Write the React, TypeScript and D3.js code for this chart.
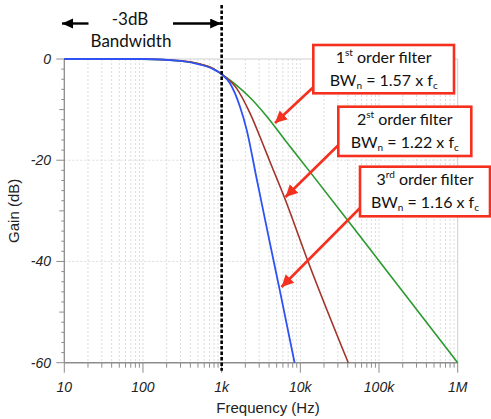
import React from 'react';
import * as d3 from 'd3';

// ---- data ----
const xTickValues = [10, 100, 1000, 10000, 100000, 1000000];
const xTickLabels = ['10', '100', '1k', '10k', '100k', '1M'];
const yTickValues = [0, -20, -40, -60];
const yTickLabels = ['0', '-20', '-40', '-60'];

const firstOrderFreq = [10, 100, 300, 530, 780, 1000, 1550, 2290, 3730, 6370, 13250, 40600, 102600, 1000000];
const firstOrderGain = [0, -0.05, -0.4, -1.0, -1.9, -3.0, -5.2, -7.6, -11.3, -16.0, -22.3, -32.0, -40.1, -60];

const secondOrderFreq = [10, 100, 300, 530, 780, 1000, 1550, 2290, 3380, 4110, 6370, 12600, 40600];
const secondOrderGain = [0, 0, -0.35, -1.0, -1.9, -3.0, -5.8, -10.7, -17.0, -20.3, -27.6, -40.1, -60];

const thirdOrderFreq = [10, 100, 300, 530, 780, 1000, 1275, 1706, 2080, 2790, 3910, 5500, 8450];
const thirdOrderGain = [0, 0, -0.35, -1.1, -2.0, -3.0, -4.8, -9.4, -14.0, -23.7, -34.8, -45.8, -60];

const cutoffFreq = 1000;

const W = 491;
const H = 419;
const left = 64.3;
const right = 457.7;
const top = 59;
const bottom = 362.7;

const RED = '#f5301f';

export default function App() {
  const x = d3.scaleLog().domain([10, 1000000]).range([left, right]);
  const y = d3.scaleLinear().domain([-60, 0]).range([bottom, top]);

  const line = d3
    .line<[number, number]>()
    .x((d) => x(d[0]))
    .y((d) => y(d[1]))
    .curve(d3.curveMonotoneX);

  const zip = (f: number[], g: number[]) => f.map((v, i) => [v, g[i]] as [number, number]);

  // minor log ticks
  const minorTicks: number[] = [];
  for (let e = 1; e < 6; e++) {
    for (let m = 2; m <= 9; m++) minorTicks.push(m * Math.pow(10, e));
  }
  const yMinor: number[] = [];
  for (let v = 0; v >= -60; v -= 2) yMinor.push(v);

  const sans = "'Liberation Sans', Arial, sans-serif";
  const cal = "Lato, 'Open Sans', sans-serif";

  const box = (
    bx: number,
    by: number,
    bw: number,
    bh: number,
    n: string,
    sup: string,
    bwv: string,
    key: string
  ) => {
    const cx = bx + bw / 2;
    return (
      <g key={key}>
        <rect x={bx} y={by} width={bw} height={bh} fill="#fff" stroke={RED} strokeWidth={2.6} />
        <text x={cx} y={by + 18} textAnchor="middle" fontFamily={cal} fontSize={16} fill="#111">
          <tspan>{n}</tspan>
          <tspan fontSize={10} dy={-7}>{sup}</tspan>
          <tspan dy={7}> order filter</tspan>
        </text>
        <text x={cx} y={by + 41} textAnchor="middle" fontFamily={cal} fontSize={16} fill="#111">
          <tspan>BW</tspan>
          <tspan fontSize={10} dy={3}>n</tspan>
          <tspan dy={-3}>{` = ${bwv} x f`}</tspan>
          <tspan fontSize={10} dy={3}>c</tspan>
        </text>
      </g>
    );
  };

  return (
    <svg width={W} height={H} style={{ position: 'absolute', left: 0, top: 0, background: '#fff' }}>
      <defs>
        <marker id="redHead" markerUnits="userSpaceOnUse" markerWidth={14} markerHeight={14} refX={12} refY={6} orient="auto">
          <path d="M0,0 L12,6 L0,12 Z" fill={RED} />
        </marker>
        <marker id="blackHead" markerUnits="userSpaceOnUse" markerWidth={14} markerHeight={14} refX={11} refY={5} orient="auto">
          <path d="M0,0 L11,5 L0,10 Z" fill="#000" />
        </marker>
      </defs>
      <rect x={0} y={0} width={W} height={H} fill="#fff" />

      {/* grid */}
      {minorTicks.concat(xTickValues.slice(1, -1)).map((f, i) => (
        <line key={'vg' + i} x1={x(f)} x2={x(f)} y1={top} y2={bottom} stroke="#dcdcdc" strokeWidth={1} strokeDasharray="2,2" />
      ))}
      {[-20, -40].map((v) => (
        <line key={'hg' + v} x1={left} x2={right} y1={y(v)} y2={y(v)} stroke="#dcdcdc" strokeWidth={1} strokeDasharray="2,2" />
      ))}
      {/* frame */}
      <line x1={left} x2={right} y1={top} y2={top} stroke="#cfcfcf" strokeWidth={1} />
      <line x1={right} x2={right} y1={top} y2={bottom} stroke="#cfcfcf" strokeWidth={1} />

      {/* y axis */}
      <line x1={left} x2={left} y1={top} y2={bottom} stroke="#8c8c8c" strokeWidth={1.3} />
      {yMinor.map((v) => {
        const len = v % 20 === 0 ? 8 : v % 10 === 0 ? 5 : 3;
        return <line key={'yt' + v} x1={left - len} x2={left} y1={y(v)} y2={y(v)} stroke="#8c8c8c" strokeWidth={1} />;
      })}
      {yTickValues.map((v, i) => (
        <text key={'yl' + v} x={51} y={y(v) + 5} textAnchor="end" fontFamily={sans} fontStyle="italic" fontSize={14} fill="#222">
          {yTickLabels[i]}
        </text>
      ))}
      <text transform={`translate(19,${(top + bottom) / 2}) rotate(-90)`} textAnchor="middle" fontFamily={sans} fontSize={15} fill="#222">
        Gain (dB)
      </text>

      {/* x axis */}
      <line x1={left} x2={right} y1={bottom} y2={bottom} stroke="#8c8c8c" strokeWidth={1.5} />
      {minorTicks.map((f, i) => (
        <line key={'xm' + i} x1={x(f)} x2={x(f)} y1={bottom} y2={bottom + 5} stroke="#8c8c8c" strokeWidth={1} />
      ))}
      {xTickValues.map((f, i) => (
        <g key={'xt' + f}>
          <line x1={x(f)} x2={x(f)} y1={bottom} y2={bottom + 10} stroke="#8c8c8c" strokeWidth={1} />
          <text x={x(f)} y={392} textAnchor="middle" fontFamily={sans} fontStyle="italic" fontSize={14} fill="#222">
            {xTickLabels[i]}
          </text>
        </g>
      ))}
      <text x={268} y={413} textAnchor="middle" fontFamily={sans} fontSize={15} fill="#222">
        Frequency (Hz)
      </text>

      {/* curves */}
      <path d={line(zip(firstOrderFreq, firstOrderGain)) || ''} fill="none" stroke="#2b9a2e" strokeWidth={1.6} />
      <path d={line(zip(secondOrderFreq, secondOrderGain)) || ''} fill="none" stroke="#a3342a" strokeWidth={1.6} />
      <path d={line(zip(thirdOrderFreq, thirdOrderGain)) || ''} fill="none" stroke="#2f52f5" strokeWidth={1.8} />

      {/* cutoff marker */}
      <line x1={x(cutoffFreq)} x2={x(cutoffFreq)} y1={5} y2={bottom + 8} stroke="#000" strokeWidth={2.6} strokeDasharray="3.5,2" />

      {/* -3dB bandwidth annotation */}
      <line x1={88.5} y1={23.5} x2={62} y2={23.5} stroke="#000" strokeWidth={2.4} markerEnd="url(#blackHead)" />
      <line x1={173} y1={23.5} x2={x(cutoffFreq) - 0.5} y2={23.5} stroke="#000" strokeWidth={2.4} markerEnd="url(#blackHead)" />
      <text x={130} y={25} textAnchor="middle" fontFamily={cal} fontSize={17} fill="#111">-3dB</text>
      <text x={131} y={47} textAnchor="middle" fontFamily={cal} fontSize={17} fill="#111">Bandwidth</text>

      {/* red arrows */}
      <line x1={313.5} y1={87} x2={275} y2={123} stroke={RED} strokeWidth={2.6} markerEnd="url(#redHead)" />
      <line x1={338.5} y1={145} x2={285.5} y2={197} stroke={RED} strokeWidth={2.6} markerEnd="url(#redHead)" />
      <line x1={360} y1={208} x2={281.5} y2={287} stroke={RED} strokeWidth={2.6} markerEnd="url(#redHead)" />

      {/* boxes */}
      {box(313.3, 45, 140.7, 48.3, '1', 'st', '1.57', 'b1')}
      {box(338.3, 106.7, 133, 49.3, '2', 'st', '1.22', 'b2')}
      {box(360, 166.7, 130, 49.6, '3', 'rd', '1.16', 'b3')}
    </svg>
  );
}
